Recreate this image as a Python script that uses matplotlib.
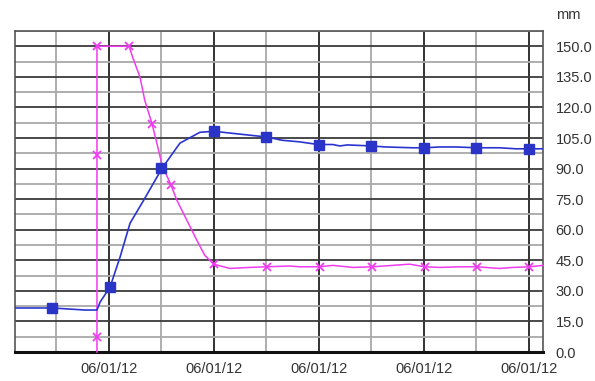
import numpy as np
import matplotlib
matplotlib.use("Agg")
import matplotlib.pyplot as plt
import matplotlib.dates as mdates
from matplotlib.ticker import MultipleLocator, FormatStrFormatter

# hours after 2012-06-01 00:00
blue_t = [0.22, 0.93, 1.55, 1.78, 1.84, 2.03, 2.22, 2.41, 2.67, 3.02, 3.36, 3.74,
          4.00, 4.50, 5.01, 5.30, 5.64, 5.99, 6.27, 6.40, 6.55, 7.00, 7.28, 7.79,
          8.02, 8.30, 8.62, 9.00, 9.44, 9.76, 10.01, 10.27]
blue_v = [21.6, 21.6, 20.6, 20.6, 24.5, 31.9, 46.6, 63.2, 74.5, 90.2, 102.5, 107.8,
          108.3, 106.9, 105.5, 103.9, 103.1, 101.8, 101.8, 101.1, 101.6, 101.1, 100.6, 100.2,
          100.2, 100.6, 100.6, 100.2, 100.2, 99.7, 99.7, 99.7]
blue_mark_t = [0.93, 2.03, 3.0, 4.0, 5.0, 6.0, 7.0, 8.0, 9.0, 10.0]
blue_mark_v = [21.6, 31.9, 90.2, 108.3, 105.5, 101.8, 101.1, 100.2, 100.2, 99.7]

pink_t = [1.78, 1.78, 2.39, 2.46, 2.60, 2.69, 2.83, 2.92, 3.02, 3.19, 3.30, 3.49,
          3.68, 3.83, 4.00, 4.31, 4.69, 5.01, 5.44, 5.64, 6.02, 6.27, 6.65, 7.02,
          7.41, 7.73, 8.02, 8.30, 8.69, 9.01, 9.44, 9.70, 10.01, 10.27]
pink_v = [0.0, 150.0, 150.0, 144.6, 134.8, 123.5, 111.8, 102.5, 91.7, 81.9, 74.5, 64.7,
          54.9, 47.5, 43.1, 41.0, 41.5, 41.8, 42.2, 41.8, 41.8, 42.5, 41.5, 41.8,
          42.5, 43.1, 41.8, 41.5, 41.8, 41.8, 41.0, 41.5, 41.8, 42.5]
pink_mark_t = [1.78, 1.78, 1.78, 2.39, 2.83, 3.19, 4.0, 5.01, 6.02, 7.02, 8.02, 9.01, 10.01]
pink_mark_v = [150.0, 96.6, 7.4, 150.0, 111.8, 81.9, 43.1, 41.8, 41.8, 41.8, 41.8, 41.8, 41.8]

base = np.datetime64("2012-06-01T00:00:00")


def to_dates(hours):
    return base + (np.array(hours) * 3600).astype("timedelta64[s]")


plt.rcParams["font.family"] = ["Liberation Sans", "DejaVu Sans"]

fig = plt.figure(figsize=(5.95, 3.81), dpi=100)
ax = fig.add_axes([15 / 595, 1 - 352 / 381, 528 / 595, 321 / 381])

ax.plot(to_dates(pink_t), pink_v, color="#f03cf0", lw=1.1, clip_on=False, zorder=3)
ax.plot(to_dates(pink_mark_t), pink_mark_v, ls="none", marker="x", ms=6, mew=1.3,
        color="#f03cf0", zorder=4)
ax.plot(to_dates(blue_t), blue_v, color="#2a35d0", lw=1.2, zorder=3)
ax.plot(to_dates(blue_mark_t), blue_mark_v, ls="none", marker="s", ms=7,
        color="#2a35c8", zorder=4)

ax.set_xlim(to_dates([0.22])[0], to_dates([10.27])[0])
ax.set_ylim(0, 157.5)

ax.xaxis.set_major_locator(mdates.HourLocator(byhour=range(2, 24, 2)))
ax.xaxis.set_minor_locator(mdates.HourLocator())
ax.xaxis.set_major_formatter(mdates.DateFormatter("%m/%d/%y"))
ax.yaxis.set_major_locator(MultipleLocator(15))
ax.yaxis.set_minor_locator(MultipleLocator(7.5))
ax.yaxis.set_major_formatter(FormatStrFormatter("%.1f"))
ax.yaxis.tick_right()

ax.tick_params(which="both", length=0, labelsize=10.5, colors="#333333")
ax.tick_params(axis="y", pad=9)
ax.tick_params(axis="x", pad=7)

ax.grid(which="minor", color="#a8a8a8", lw=1.3)
ax.grid(which="major", axis="y", color="#3a3a3a", lw=1.3)
ax.grid(which="major", axis="x", color="#222222", lw=1.3)
ax.set_axisbelow(True)

for side in ["left", "top", "right"]:
    ax.spines[side].set_color("#555555")
    ax.spines[side].set_linewidth(1.2)
ax.spines["bottom"].set_color("#111111")
ax.spines["bottom"].set_linewidth(2.2)

fig.text(568 / 595, 1 - 15 / 381, "mm", ha="center", va="center", fontsize=10.5, color="#333333")

fig.savefig("out.png", dpi=100)
